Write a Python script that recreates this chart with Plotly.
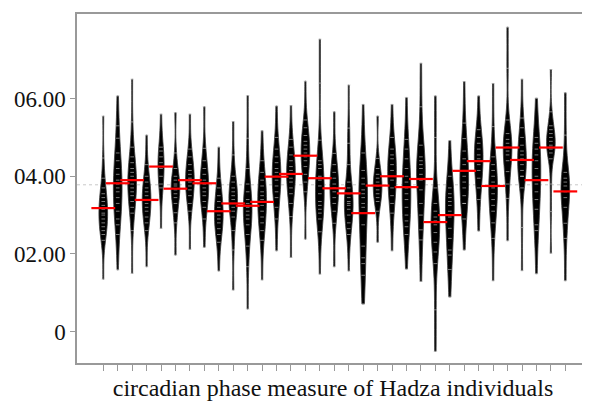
import plotly.graph_objects as go

# individual ids (x positions)
individuals = list(range(1, 34))

p01 = [5.55, 4.47, 3.95, 3.7, 3.55, 3.45, 3.35, 3.25, 3.15, 3.05, 3.0, 2.9, 2.8, 2.7, 2.6, 2.5, 2.35, 1.35]
p02 = [6.07, 5.3, 4.98, 4.6, 4.4, 4.2, 4.05, 3.9, 3.8, 3.7, 3.6, 3.45, 3.3, 3.1, 2.9, 2.75, 2.5, 1.59]
p03 = [6.5, 5.4, 4.75, 4.5, 4.35, 4.2, 4.1, 4.0, 3.9, 3.8, 3.7, 3.6, 3.5, 3.35, 3.2, 3.05, 2.6, 1.5]
p04 = [5.06, 4.3, 4.0, 3.85, 3.7, 3.6, 3.5, 3.4, 3.3, 3.2, 3.1, 2.95, 2.8, 2.6, 1.67]
p05 = [5.6, 4.75, 4.65, 4.5, 4.35, 4.2, 4.0, 3.8, 3.7, 2.66]
p06 = [5.64, 4.6, 4.2, 4.0, 3.9, 3.8, 3.75, 3.65, 3.55, 3.45, 3.3, 3.06, 2.8, 1.97]
p07 = [5.6, 4.7, 4.5, 4.3, 4.15, 4.05, 3.95, 3.85, 3.75, 3.65, 3.5, 3.3, 3.1, 2.12]
p08 = [5.79, 4.72, 4.4, 4.2, 4.05, 3.9, 3.8, 3.7, 3.6, 3.5, 3.35, 3.2, 2.9, 2.17]
p09 = [4.75, 3.95, 3.7, 3.5, 3.35, 3.2, 3.1, 3.0, 2.9, 2.8, 2.65, 2.5, 2.3, 1.56]
p10 = [5.41, 4.55, 4.0, 3.85, 3.7, 3.6, 3.5, 3.4, 3.3, 3.2, 3.1, 2.95, 2.6, 2.1, 1.07]
p11 = [6.08, 4.98, 4.2, 3.8, 3.6, 3.4, 3.3, 3.2, 3.1, 3.0, 2.9, 2.75, 2.5, 2.2, 1.67, 0.58]
p12 = [5.17, 4.4, 4.1, 3.9, 3.75, 3.6, 3.5, 3.4, 3.25, 3.1, 2.95, 2.8, 2.6, 2.35, 1.33]
p13 = [5.81, 5.0, 4.7, 4.5, 4.35, 4.2, 4.1, 4.0, 3.9, 3.75, 3.6, 3.45, 3.2, 2.9, 2.08]
p14 = [5.82, 4.95, 4.75, 4.55, 4.4, 4.25, 4.15, 4.05, 3.95, 3.85, 3.7, 3.55, 3.3, 2.96, 1.91]
p15 = [6.45, 5.45, 5.25, 5.05, 4.9, 4.8, 4.7, 4.6, 4.5, 4.4, 4.25, 4.05, 3.85, 3.6, 2.38]
p16 = [7.53, 6.4, 4.93, 4.4, 4.3, 4.2, 4.0, 3.9, 3.75, 3.55, 3.35, 3.25, 3.15, 3.05, 2.9, 2.57, 1.48]
p17 = [5.66, 4.59, 4.3, 4.1, 3.95, 3.8, 3.7, 3.6, 3.45, 3.3, 3.1, 2.79, 1.67]
p18 = [6.35, 5.24, 4.85, 4.3, 3.85, 3.7, 3.55, 3.45, 3.35, 3.3, 3.25, 3.15, 3.0, 2.8, 2.65, 2.5, 1.56]
p19 = [5.85, 4.6, 4.15, 3.95, 3.8, 3.65, 3.55, 3.45, 3.3, 3.2, 2.75, 2.2, 1.9, 1.75, 1.45, 0.71]
p20 = [5.55, 4.46, 4.2, 4.05, 3.95, 3.85, 3.75, 3.65, 3.55, 3.45, 3.35, 3.1, 2.3]
p21 = [5.85, 5.0, 4.7, 4.55, 4.45, 4.3, 4.15, 4.0, 3.9, 3.7, 3.5, 3.3, 3.05, 2.08]
p22 = [6.03, 4.95, 4.7, 4.45, 4.2, 4.0, 3.85, 3.7, 3.55, 3.4, 3.2, 3.0, 2.85, 2.7, 2.5, 1.61]
p23 = [6.91, 5.79, 4.8, 4.5, 4.4, 4.3, 4.2, 4.05, 3.9, 3.65, 3.3, 3.0, 2.62, 2.36, 1.29]
p24 = [6.07, 5.0, 3.7, 3.3, 3.1, 2.95, 2.85, 2.75, 2.55, 2.3, 2.05, 1.75, 0.56, -0.51]
p25 = [4.92, 4.0, 3.7, 3.55, 3.45, 3.35, 3.25, 3.1, 2.95, 2.66, 2.4, 2.1, 1.97, 1.6, 0.89]
p26 = [6.44, 5.37, 4.97, 4.65, 4.45, 4.3, 4.15, 4.0, 3.85, 3.7, 3.5, 3.3, 3.3, 2.9, 2.1]
p27 = [6.07, 5.2, 5.0, 4.85, 4.7, 4.55, 4.45, 4.3, 4.15, 3.95, 3.7, 3.4, 2.59]
p28 = [6.39, 5.28, 4.5, 4.3, 4.15, 4.0, 3.85, 3.7, 3.55, 3.4, 3.25, 3.1, 2.8, 2.4, 1.31]
p29 = [7.84, 6.78, 5.45, 5.1, 4.95, 4.85, 4.75, 4.65, 4.55, 4.4, 4.12, 3.8, 3.43, 2.34]
p30 = [6.5, 5.5, 5.25, 5.0, 4.8, 4.65, 4.55, 4.45, 4.3, 4.15, 4.0, 4.0, 3.7, 2.68, 1.57]
p31 = [6.01, 5.0, 4.85, 4.7, 4.55, 4.4, 4.2, 4.0, 3.8, 3.6, 3.4, 3.15, 2.75, 2.6, 1.49]
p32 = [6.75, 5.66, 5.3, 5.2, 5.1, 5.0, 4.9, 4.8, 4.75, 4.7, 4.6, 4.45, 3.8, 3.09, 2.02]
p33 = [6.15, 5.06, 4.1, 3.95, 3.85, 3.75, 3.6, 3.45, 3.2, 2.79, 2.4, 1.31]

samples = [p01, p02, p03, p04, p05, p06, p07, p08, p09, p10, p11, p12, p13, p14, p15, p16,
           p17, p18, p19, p20, p21, p22, p23, p24, p25, p26, p27, p28, p29, p30, p31, p32, p33]

# bean means (red lines) and overall mean (dotted line)
bean_means = [3.18, 3.82, 3.90, 3.39, 4.25, 3.68, 3.90, 3.82, 3.10, 3.30, 3.24, 3.34, 3.99, 4.06,
              4.53, 3.95, 3.69, 3.56, 3.05, 3.76, 4.00, 3.72, 3.93, 2.82, 3.00, 4.14, 4.39, 3.75,
              4.74, 4.42, 3.90, 4.74, 3.61]
overall_mean = 3.78

y_tick_values = [0, 2, 4, 6]
y_tick_labels = ["0", "02.00", "04.00", "06.00"]
x_title = "circadian phase measure of Hadza individuals"

# styling (page body adds an 8px margin, figure sized to fit the 590x403 window)
bean_width = {5: 0.42}
default_width = 0.6
FONT = "Liberation Serif"

fig = go.Figure()
for ind, vals in zip(individuals, samples):
    fig.add_trace(go.Violin(
        x=[ind] * len(vals), y=vals,
        width=bean_width.get(ind, default_width),
        spanmode="hard", scalemode="width",
        fillcolor="black", line=dict(color="#3a3a3a", width=0.8),
        points="all", pointpos=0, jitter=0,
        marker=dict(symbol="line-ew", size=2.6, color="white",
                    line=dict(width=1, color="rgba(200,200,200,0.6)")),
        showlegend=False, hoverinfo="skip",
    ))

fig.add_trace(go.Scatter(
    x=individuals, y=bean_means, mode="markers",
    marker=dict(symbol="line-ew", size=17, line=dict(width=2.2, color="#ff0000")),
    showlegend=False, hoverinfo="skip",
))

fig.add_shape(type="line", xref="paper", yref="y", x0=0, x1=1,
              y0=overall_mean, y1=overall_mean,
              line=dict(color="#c8c8c8", width=1, dash="dot"), layer="below")
fig.add_shape(type="line", xref="paper", yref="paper", x0=1, x1=1, y0=0, y1=1,
              line=dict(color="#e6e6e6", width=1))

fig.update_layout(
    width=582, height=395,
    margin=dict(l=69, r=1, t=6, b=40, autoexpand=False),
    paper_bgcolor="white", plot_bgcolor="white",
    violinmode="overlay",
    font=dict(family=FONT, color="#111111"),
    xaxis=dict(
        range=[-0.82, 34.64], tickmode="array", tickvals=individuals,
        showticklabels=False, ticks="outside", ticklen=6, tickcolor="#999999",
        showgrid=False, zeroline=False, automargin=False,
        showline=True, linecolor="#999999", linewidth=1.5, mirror=True,
        title=dict(text=x_title, font=dict(family=FONT, size=24), standoff=9),
    ),
    yaxis=dict(
        range=[-0.81, 8.18], tickmode="array", tickvals=y_tick_values,
        ticktext=y_tick_labels, ticks="outside", ticklen=5, tickcolor="#999999",
        tickfont=dict(family=FONT, size=23), automargin=False,
        showgrid=False, zeroline=False,
        showline=True, linecolor="#999999", linewidth=1.5,
    ),
)

fig.write_html("out.html")
